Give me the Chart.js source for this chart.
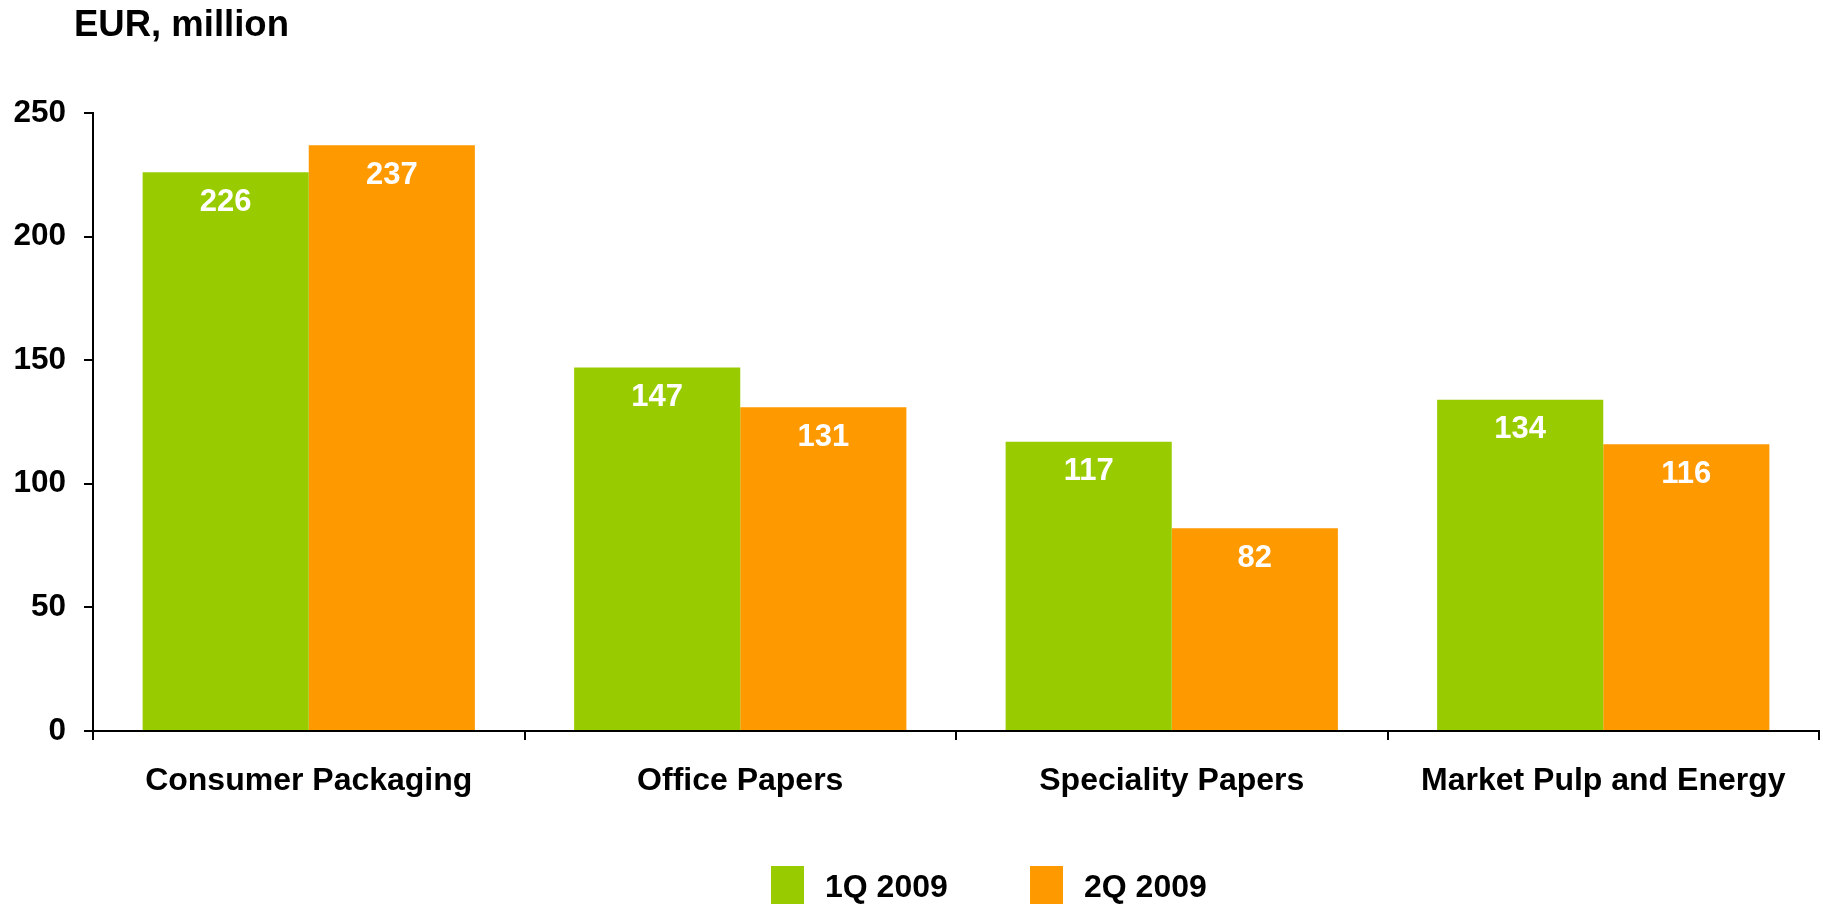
<!DOCTYPE html>
<html>
<head>
<meta charset="utf-8">
<script src="https://cdn.jsdelivr.net/npm/chart.js@4/dist/chart.umd.min.js"></script>
<style>
  html, body { margin: 0; padding: 0; background: #ffffff; }
  canvas { display: block; }
</style>
</head>
<body>
<canvas id="c" width="1823" height="904"></canvas>
<script>
const categories = ["Consumer Packaging", "Office Papers", "Speciality Papers", "Market Pulp and Energy"];
const q1_2009 = [226, 147, 117, 134];
const q2_2009 = [237, 131, 82, 116];
const seriesLabels = ["1Q 2009", "2Q 2009"];
const yTicks = [0, 50, 100, 150, 200, 250];
const unitTitle = "EUR, million";

const FONT = "'Liberation Sans', Arial, Helvetica, sans-serif";
const GREEN = "#99CC00";
const ORANGE = "#FF9900";

const titlePlugin = {
  id: 'unitTitle',
  afterDraw(chart) {
    const ctx = chart.ctx;
    ctx.save();
    ctx.font = "bold 36.5px " + FONT;
    ctx.fillStyle = "#000";
    ctx.textAlign = "left";
    ctx.textBaseline = "alphabetic";
    ctx.fillText(unitTitle, 74, 36);
    ctx.restore();
  }
};

const valueLabels = {
  id: 'valueLabels',
  afterDatasetsDraw(chart) {
    const ctx = chart.ctx;
    ctx.save();
    ctx.font = "bold 31px " + FONT;
    ctx.fillStyle = "#ffffff";
    ctx.textAlign = "center";
    ctx.textBaseline = "middle";
    chart.data.datasets.forEach((ds, di) => {
      const meta = chart.getDatasetMeta(di);
      meta.data.forEach((bar, i) => {
        ctx.fillText(String(ds.data[i]), bar.x, bar.y + 30);
      });
    });
    ctx.restore();
  }
};

const bottomLegend = {
  id: 'bottomLegend',
  afterDraw(chart) {
    const ctx = chart.ctx;
    ctx.save();
    ctx.font = "bold 32px " + FONT;
    ctx.textAlign = "left";
    ctx.textBaseline = "alphabetic";
    let x = 771;
    chart.data.datasets.forEach((ds) => {
      ctx.fillStyle = ds.backgroundColor;
      ctx.fillRect(x, 866, 33, 38);
      ctx.fillStyle = "#000";
      ctx.fillText(ds.label, x + 54, 897);
      x += 259;
    });
    ctx.restore();
  }
};

new Chart(document.getElementById('c'), {
  type: 'bar',
  data: {
    labels: categories,
    datasets: [
      { label: seriesLabels[0], data: q1_2009, backgroundColor: GREEN, categoryPercentage: 0.77, barPercentage: 1.0, borderWidth: 0 },
      { label: seriesLabels[1], data: q2_2009, backgroundColor: ORANGE, categoryPercentage: 0.77, barPercentage: 1.0, borderWidth: 0 }
    ]
  },
  options: {
    responsive: false,
    devicePixelRatio: 1,
    animation: false,
    layout: { padding: { top: 113, right: 4, bottom: 0, left: 0 } },
    plugins: {
      legend: { display: false },
      tooltip: { enabled: false },
      title: { display: false }
    },
    scales: {
      x: {
        offset: true,
        grid: { offset: true, drawOnChartArea: false, drawTicks: true, tickLength: 9, color: '#000', lineWidth: 2 },
        border: { display: true, color: '#000', width: 2 },
        ticks: { color: '#000', font: { family: FONT, size: 32, weight: 'bold' }, padding: 22, maxRotation: 0, autoSkip: false },
        afterFit(s) { s.height = 173; }
      },
      y: {
        min: 0,
        max: 250,
        afterBuildTicks(s) { s.ticks = yTicks.map(v => ({ value: v })); },
        grid: { drawOnChartArea: false, drawTicks: true, tickLength: 9, color: '#000', lineWidth: 2 },
        border: { display: true, color: '#000', width: 2 },
        ticks: { color: '#000', font: { family: FONT, size: 31.5, weight: 'bold' }, padding: 18 },
        afterFit(s) { s.width = 93; }
      }
    }
  },
  plugins: [titlePlugin, valueLabels, bottomLegend]
});
</script>
</body>
</html>
